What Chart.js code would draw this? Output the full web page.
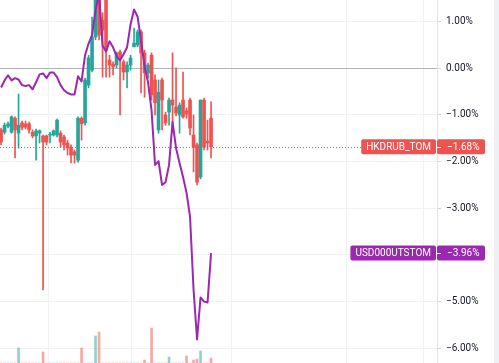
<!DOCTYPE html>
<html>
<head>
<meta charset="utf-8">
<script src="https://cdn.jsdelivr.net/npm/chart.js@4.4.1/dist/chart.umd.min.js"></script>
<style>
  html, body { margin: 0; padding: 0; background: #eef0f4; }
  #wrap { position: relative; width: 494px; height: 363px; background: #fff; }
</style>
</head>
<body>
<div id="wrap"><canvas id="chart"></canvas></div>
<script>
// HKDRUB_TOM candles, % change from session start
const opens = [-1.32, -1.37, -1.24, -1.37, -1.07, -1.39, -1.17, -1.19, -1.19, -1.37,
    -1.45, -1.39, -1.45, -1.45, -1.43, -1.43, -1.43, -1.39, -1.47, -1.60,
    -1.69, -1.79, -1.97, -1.07, -1.17, -0.36, -0.04, 0.67, 1.68, 1.03,
    1.46, 0.18, 0.09, 0.07, 0.35, 0.14, -0.08, 0.07, 0.46, 0.50,
    0.78, 0.33, -0.10, 0.28, -0.25, -1.32, -0.25, -1.00, -0.94, -0.68,
    -0.83, -1.00, -0.68, -0.91, -0.68, -1.43, -1.64, -2.33, -0.68, -1.56,
    -1.07];
const highs = [-1.28, -1.17, -1.15, -1.02, -1.04, -0.55, -1.13, -1.13, -1.15, -1.32,
    -1.30, -1.32, -1.43, -1.43, -1.37, -1.32, -1.09, -1.34, -1.43, -1.54,
    -1.64, -1.75, -1.04, -1.04, -0.21, 0.28, 1.10, 1.78, 1.89, 1.19,
    1.68, 0.28, 0.14, 0.35, 0.39, 0.18, 0.14, 0.28, 0.86, 0.82,
    0.82, 0.39, 0.11, 0.33, -0.14, -0.25, -0.21, -0.94, -0.64, 0.33,
    0.01, -0.74, -0.08, -0.85, -0.64, -1.00, -1.60, -0.68, -0.64, -1.11,
    -0.72];
const lows = [-1.64, -1.41, -1.28, -1.39, -1.92, -1.71, -1.32, -1.30, -1.39, -1.49,
    -1.97, -1.60, -4.75, -1.64, -1.60, -1.45, -1.47, -1.69, -1.75, -1.86,
    -2.03, -2.03, -2.01, -1.54, -1.22, -0.42, -0.08, 0.61, 0.61, -0.19,
    -0.19, -0.19, -0.14, 0.01, -1.00, -0.25, -0.42, -0.04, 0.46, 0.46,
    -0.53, -0.62, -0.21, -0.68, -1.00, -1.39, -1.32, -1.22, -1.22, -1.37,
    -1.02, -1.39, -1.07, -1.07, -1.43, -2.22, -2.50, -2.37, -1.75, -1.75,
    -1.92];
const closes = [-1.58, -1.22, -1.19, -1.04, -1.32, -1.22, -1.26, -1.26, -1.32, -1.45,
    -1.34, -1.34, -1.58, -1.58, -1.41, -1.34, -1.11, -1.58, -1.64, -1.71,
    -1.86, -1.86, -1.07, -1.19, -0.25, 0.22, 0.67, 1.57, 0.71, 0.82,
    0.39, 0.07, 0.03, 0.33, 0.24, -0.08, 0.07, 0.22, 0.54, 0.78,
    0.33, -0.10, 0.07, -0.57, -0.74, -0.51, -0.68, -1.17, -0.68, -0.79,
    -0.96, -0.79, -1.04, -0.98, -1.28, -1.69, -2.44, -0.68, -1.69, -1.60,
    -1.68];
// volume (only the tops that show above the bottom edge)
const volume = [0, 0, 0, 0, 0, 15, 0, 0, 0, 0,
    0, 0, 11, 0, 0, 0, 0, 0, 0, 0,
    0, 0, 0, 15, 0, 0, 0, 27, 31, 0,
    0, 0, 0, 0, 0, 0, 0, 0, 0, 0,
    0, 3, 0, 35, 0, 0, 0, 0, 6, 0,
    0, 0, 0, 7, 0, 3, 4, 12, 0, 0,
    5];
// USD000UTSTOM compare line, %
const usdLine = [-0.41, -0.26, -0.15, -0.26, -0.21, -0.24, -0.36, -0.38, -0.36, -0.45,
    -0.30, -0.13, -0.11, -0.21, -0.09, -0.09, -0.19, -0.36, -0.47, -0.53,
    -0.56, -0.56, -0.17, -0.28, 0.28, 0.53, 0.71, 1.24, 1.62, 0.49,
    0.36, 0.58, 0.45, 0.26, 0.17, 0.30, 0.45, 0.94, 1.26, 1.11,
    0.60, 0.04, -0.30, -0.90, -2.07, -1.99, -2.50, -2.44, -2.07, -1.15,
    -1.71, -2.03, -2.33, -2.67, -3.18, -4.74, -5.81, -4.91, -5.00, -5.02,
    -3.96];

const yTicks = [1, 0, -1, -2, -3, -4, -5, -6];
const timeGrid = [13.7, 37.4, 65.8, 98.8, 120.6];
const seriesNames = ['HKDRUB_TOM', 'USD000UTSTOM'];

const upColor = '#26a69a';
const downColor = '#ef5350';
const usdColor = '#9c27b0';
const font = 'Roboto';

const fmtPct = v => (v < 0 ? '\u2212' + Math.abs(v).toFixed(2) : v.toFixed(2)) + '%';
const isUp = i => closes[i] >= opens[i];
const candleColor = c => isUp(c.dataIndex) ? upColor : downColor;
const volColor = c => isUp(c.dataIndex) ? 'rgba(38,166,154,0.5)' : 'rgba(239,83,80,0.5)';

// price tags on the right axis
function drawTag(ctx, area, y, name, value, color) {
    const h = 15;
    ctx.font = '10px ' + font;
    const nameW = ctx.measureText(name).width + 10;
    const right = area.right - 1;
    ctx.fillStyle = color;
    ctx.beginPath();
    ctx.roundRect(right - nameW, y - h / 2, nameW, h, 2);
    ctx.fill();
    ctx.beginPath();
    ctx.roundRect(area.right, y - h / 2, 48, h, 2);
    ctx.fill();
    ctx.fillStyle = '#fff';
    ctx.textBaseline = 'middle';
    ctx.textAlign = 'left';
    ctx.fillText(name, right - nameW + 5, y + 0.5);
    ctx.fillText(value, area.right + 10, y + 0.5);
    ctx.strokeStyle = '#fff';
    ctx.lineWidth = 1;
    ctx.beginPath();
    ctx.moveTo(area.right, Math.round(y) + 0.5);
    ctx.lineTo(area.right + 4, Math.round(y) + 0.5);
    ctx.stroke();
    return right - nameW;
}

const priceTags = {
    id: 'priceTags',
    beforeDatasetsDraw(chart) {
        const { ctx, chartArea, scales } = chart;
        const last = closes[closes.length - 1];
        const y = Math.round(scales.y.getPixelForValue(last)) + 0.5;
        ctx.save();
        ctx.font = '10px ' + font;
        const stop = chartArea.right - 1 - ctx.measureText(seriesNames[0]).width - 10;
        ctx.strokeStyle = downColor;
        ctx.lineWidth = 1;
        ctx.setLineDash([1, 2]);
        ctx.beginPath();
        ctx.moveTo(chartArea.left, y);
        ctx.lineTo(stop, y);
        ctx.stroke();
        ctx.restore();
    },
    afterDraw(chart) {
        const { ctx, chartArea, scales } = chart;
        const hk = closes[closes.length - 1];
        const usd = usdLine[usdLine.length - 1];
        ctx.save();
        drawTag(ctx, chartArea, scales.y.getPixelForValue(hk), seriesNames[0], fmtPct(hk), downColor);
        drawTag(ctx, chartArea, scales.y.getPixelForValue(usd), seriesNames[1], fmtPct(usd), usdColor);
        ctx.restore();
    }
};

const idx = opens.map((_, i) => i);

new Chart(document.getElementById('chart'), {
    type: 'bar',
    data: {
        datasets: [
            {
                type: 'line',
                label: seriesNames[1],
                data: idx.map(i => ({ x: i, y: usdLine[i] })),
                borderColor: usdColor,
                borderWidth: 2,
                pointRadius: 0,
                tension: 0,
                borderJoinStyle: 'round',
                order: 0
            },
            {
                label: seriesNames[0],
                data: idx.map(i => ({ x: i, y: [opens[i], closes[i]] })),
                backgroundColor: candleColor,
                barThickness: 3,
                minBarLength: 1,
                grouped: false,
                order: 1
            },
            {
                label: 'wicks',
                data: idx.map(i => ({ x: i, y: [lows[i], highs[i]] })),
                backgroundColor: candleColor,
                barThickness: 1,
                grouped: false,
                order: 2
            },
            {
                label: 'volume',
                data: idx.map(i => ({ x: i, y: volume[i] })),
                backgroundColor: volColor,
                barThickness: 2,
                grouped: false,
                yAxisID: 'yv',
                order: 3
            }
        ]
    },
    options: {
        responsive: true,
        maintainAspectRatio: false,
        animation: false,
        layout: { padding: 0 },
        plugins: {
            legend: { display: false },
            tooltip: { enabled: false }
        },
        scales: {
            x: {
                type: 'linear',
                min: -0.3,
                max: 124.56,
                offset: false,
                afterBuildTicks: s => { s.ticks = timeGrid.map(v => ({ value: v })); },
                afterFit: s => { s.height = 0; s.paddingLeft = 0; s.paddingRight = 0; },
                grid: { color: '#f0f2f5', drawTicks: false, offset: false },
                border: { display: false },
                ticks: { display: false }
            },
            y: {
                position: 'right',
                min: -6.3146,
                max: 1.4635,
                afterBuildTicks: s => { s.ticks = yTicks.map(v => ({ value: v })); },
                afterFit: s => { s.width = 57; s.paddingTop = 0; s.paddingBottom = 0; },
                grid: {
                    color: c => c.tick && c.tick.value === 0 ? '#b2b5be' : '#f0f2f5',
                    tickColor: '#d1d4dc',
                    tickLength: 4
                },
                border: { color: '#e0e3eb' },
                ticks: {
                    color: '#131722',
                    padding: 5,
                    font: { family: font, size: 10 },
                    callback: v => fmtPct(v)
                }
            },
            yv: {
                display: false,
                min: 0,
                max: 363
            }
        }
    },
    plugins: [priceTags]
});
</script>
</body>
</html>
